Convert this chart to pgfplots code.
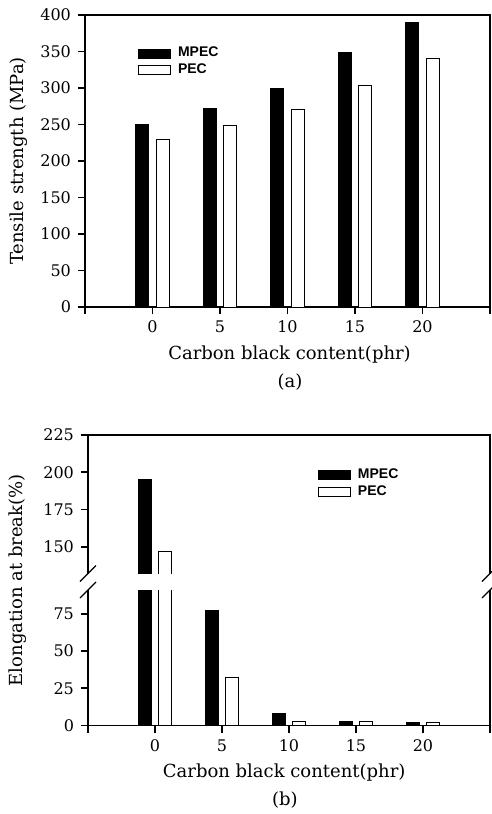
\documentclass[border=0pt]{standalone}
\usepackage{fontspec}
\setmainfont{DejaVu Serif}
\setsansfont{Liberation Sans}
\usepackage{pgfplots}
\usepackage{pgfplotstable}
\pgfplotsset{compat=1.18}

% tensile strength (MPa)
\pgfplotstableread{
cb  mpec pec
0   250  230
5   272  248
10  300  270
15  348  303
20  390  340
}\tensile

% elongation at break (%), upper part shown above the axis break
\pgfplotstableread{
cb  mpec pec
0   195  147
5   77   32
10  8    3
15  2.5  2.5
20  2    2
}\elong

\pgfplotsset{
  panel/.style={
    scale only axis,
    clip=false,
    xmin=-5, xmax=25,
    xtick={-5,0,5,10,15,20,25},
    xticklabels={,0,5,10,15,20,},
    xtick pos=bottom, ytick pos=left,
    tick align=outside,
    major tick length=3.5pt,
    axis line style={line width=0.9pt},
    tick style={line width=0.8pt, black},
    ticklabel style={font=\fontsize{8}{9}\selectfont},
    /pgf/number format/assume math mode=true,
    label style={font=\fontsize{9}{10}\selectfont},
    ybar, bar width=0.95,
    legend image code/.code={\draw[##1] (0pt,-2.25pt) rectangle (16pt,2.25pt);},
    legend style={draw=none, fill=none, inner sep=0pt, row sep=0pt, column sep=2.5pt,
      nodes={inner sep=1pt},
      font=\sffamily\bfseries\fontsize{7}{8}\selectfont},
    legend cell align=left,
  },
  mpec/.style={fill=black, draw=black, line width=0.5pt, bar shift=-0.77},
  pec/.style={fill=white, draw=black, line width=0.5pt, bar shift=0.77},
}
\tikzset{brk/.style={line width=0.6pt}}

\begin{document}
\begin{tikzpicture}
\useasboundingbox (0,0) rectangle (246pt,-407pt);

\begin{axis}[panel,
    at={(42.5pt,-153.5pt)}, anchor=south west,
    width=202.5pt, height=146pt,
    ymin=0, ymax=400, ytick={0,50,...,400},
    ylabel={Tensile strength (MPa)},
    ylabel style={at={(axis description cs:-0.165,0.5)}, anchor=center},
    xlabel={Carbon black content(phr)},
    xlabel style={at={(axis description cs:0.505,-0.164)}, anchor=center},
    legend style={at={(axis description cs:0.13,0.898)}, anchor=north west},
]
\addplot[mpec] table[x=cb, y=mpec] {\tensile};
\addplot[pec] table[x=cb, y=pec] {\tensile};
\legend{MPEC, PEC}
\node[font=\fontsize{9}{10}\selectfont] at (axis description cs:0.506,-0.257) {(a)};
\end{axis}

\begin{axis}[panel,
    at={(44pt,-362.75pt)}, anchor=south west,
    width=201pt, height=145.25pt,
    ymin=0, ymax=195,
    ytick={0,25,50,75,120,145,170,195},
    yticklabels={0,25,50,75,150,175,200,225},
    y filter/.expression={y>100 ? y-30 : y},
    ylabel={Elongation at break(\%)},
    ylabel style={at={(axis description cs:-0.174,0.5)}, anchor=center},
    xlabel={Carbon black content(phr)},
    xlabel style={at={(axis description cs:0.488,-0.1635)}, anchor=center},
    legend style={at={(axis description cs:0.571,0.893)}, anchor=north west},
]
\addplot[mpec] table[x=cb, y=mpec] {\elong};
\addplot[pec] table[x=cb, y=pec] {\elong};
\legend{MPEC, PEC}
% axis break
\fill[white] ([xshift=-2pt]axis cs:-5,91) rectangle ([xshift=2pt]axis cs:25,102);
\draw[brk] ([xshift=-4pt,yshift=-4pt]axis cs:-5,91) -- ([xshift=4pt,yshift=4pt]axis cs:-5,91);
\draw[brk] ([xshift=-4pt,yshift=-4pt]axis cs:-5,102) -- ([xshift=4pt,yshift=4pt]axis cs:-5,102);
\draw[brk] ([xshift=-4pt,yshift=-4pt]axis cs:25,91) -- ([xshift=1.5pt,yshift=1.5pt]axis cs:25,91);
\draw[brk] ([xshift=-4pt,yshift=-4pt]axis cs:25,102) -- ([xshift=1.5pt,yshift=1.5pt]axis cs:25,102);
\node[font=\fontsize{9}{10}\selectfont] at (axis description cs:0.49,-0.256) {(b)};
\end{axis}
\end{tikzpicture}
\end{document}
